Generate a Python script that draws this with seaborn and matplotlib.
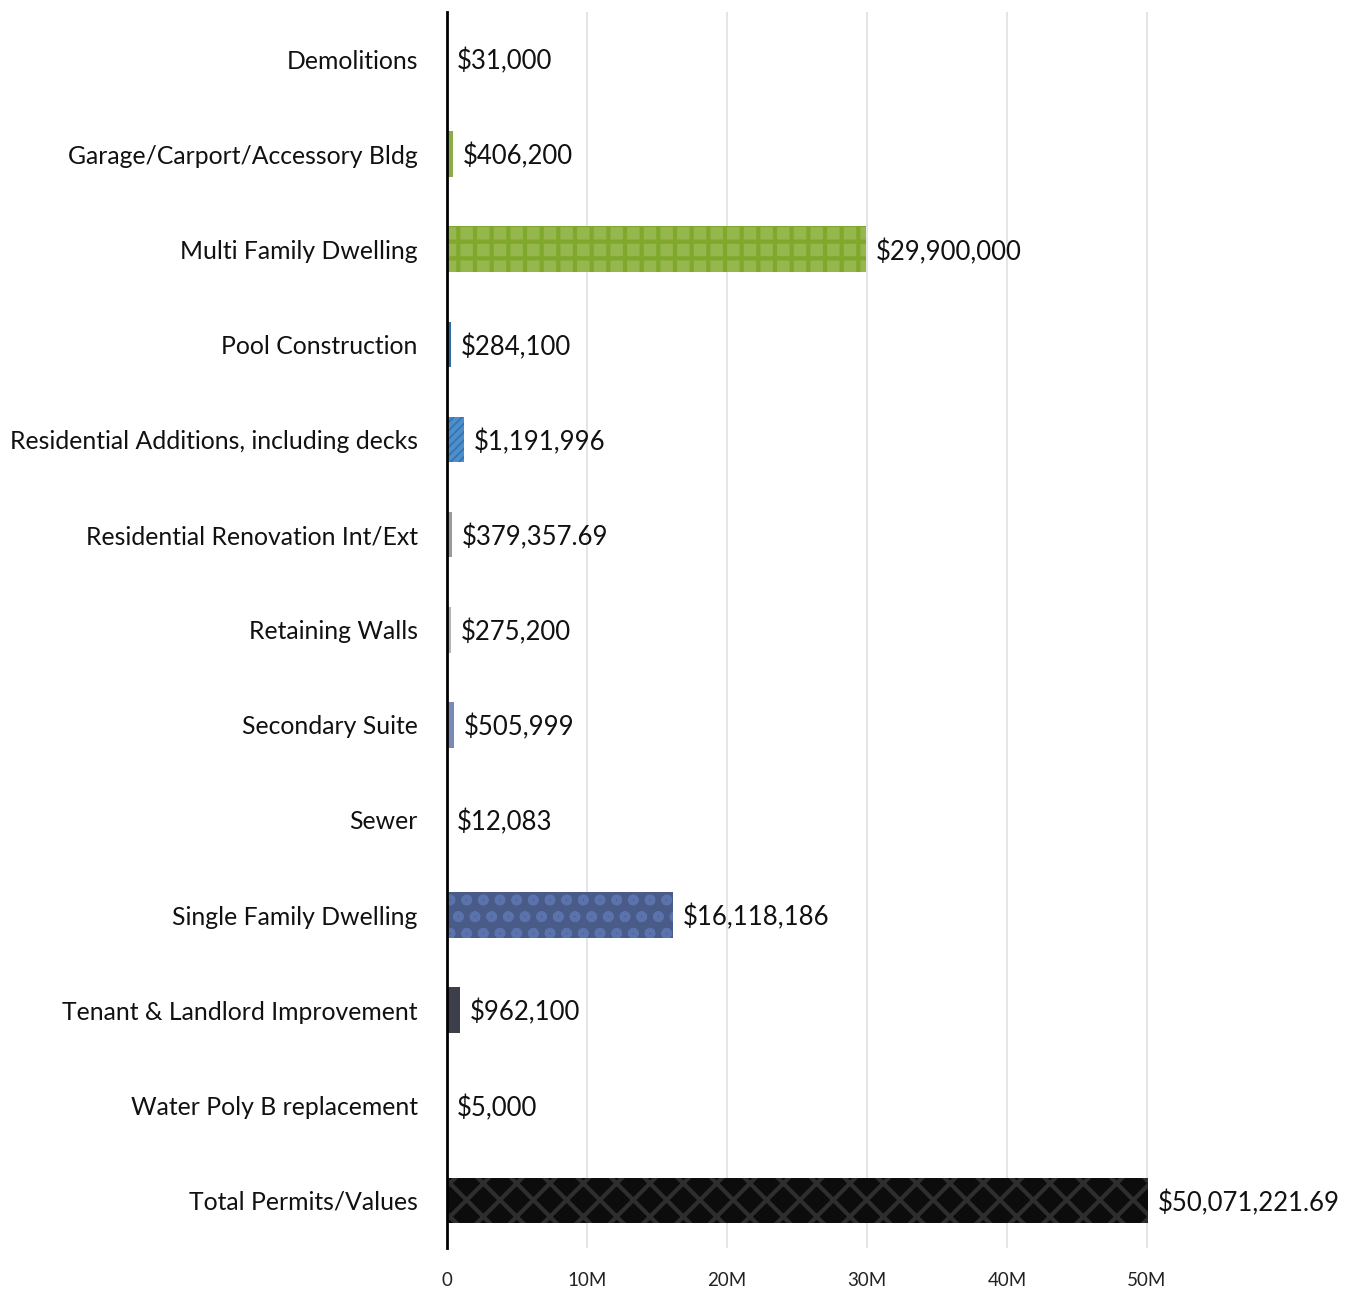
import matplotlib
matplotlib.use("Agg")
import matplotlib.pyplot as plt
import seaborn as sns
import pandas as pd
from matplotlib.ticker import FuncFormatter

categories = ["Demolitions", "Garage/Carport/Accessory Bldg", "Multi Family Dwelling",
              "Pool Construction", "Residential Additions, including decks",
              "Residential Renovation Int/Ext", "Retaining Walls", "Secondary Suite",
              "Sewer", "Single Family Dwelling", "Tenant & Landlord Improvement",
              "Water Poly B replacement", "Total Permits/Values"]
values = [31000, 406200, 29900000, 284100, 1191996, 379357.69, 275200, 505999,
          12083, 16118186, 962100, 5000, 50071221.69]
colors = ["#c9a227", "#8fbd3a", "#9cc83c", "#1f6db3", "#2a72b8", "#9a9a9a",
          "#b5b5b5", "#6f86c0", "#5a5a5a", "#3e5894", "#3a3e4c", "#444444", "#0c0c0c"]
hatches = [None, None, "+", None, "////", None, None, None, None, "o", None, None, "x"]
hatch_colors = ["#c9a227", "#8fbd3a", "#7fa82c", "#1f6db3", "#4a8fd0", "#9a9a9a",
                "#b5b5b5", "#6f86c0", "#5a5a5a", "#5b73ad", "#50556a", "#444444", "#2e2e2e"]
xticks = [0, 10e6, 20e6, 30e6, 40e6, 50e6]

df = pd.DataFrame({"category": categories, "value": values})

sns.set_theme(style="white")
plt.rcParams["font.family"] = ["Lato", "DejaVu Sans"]
plt.rcParams["hatch.linewidth"] = 3.0

fig = plt.figure(figsize=(13.51, 12.90), dpi=100)
ax = fig.add_axes([447 / 1351, 42 / 1290, (1340 - 447) / 1351, (1248 - 11.5) / 1290])

sns.barplot(data=df, x="value", y="category", hue="category", palette=colors,
            legend=False, orient="h", width=0.48, ax=ax, zorder=3)

for patch, h, hc in zip(ax.patches, hatches, hatch_colors):
    patch.set_linewidth(0)
    if h:
        patch.set_hatch(h)
        patch.set_edgecolor(hc)

ax.set_xlim(0, (1340 - 447) / 14 * 1e6)
ax.set_xticks(xticks)
ax.xaxis.set_major_formatter(FuncFormatter(lambda v, p: "0" if v == 0 else f"{int(v/1e6)}M"))
ax.grid(axis="x", color="#e0e0e0", linewidth=1.2, zorder=0)
ax.set_axisbelow(True)
for s in ["top", "right", "bottom"]:
    ax.spines[s].set_visible(False)
ax.spines["left"].set_color("black")
ax.spines["left"].set_linewidth(2)
ax.spines["left"].set_zorder(5)
ax.set_xlabel("")
ax.set_ylabel("")
ax.tick_params(axis="y", length=0, pad=21, labelsize=17.8, labelcolor="#111111")
ax.tick_params(axis="x", length=0, pad=17, labelsize=13.5, labelcolor="#222222")

for i, v in enumerate(values):
    txt = f"${v:,.0f}" if float(v).is_integer() else f"${v:,.2f}"
    ax.text(v + 0.7e6, i, txt, va="center_baseline", ha="left", fontsize=18.5,
            color="#111111", zorder=6)

fig.savefig("out.png", dpi=100)
